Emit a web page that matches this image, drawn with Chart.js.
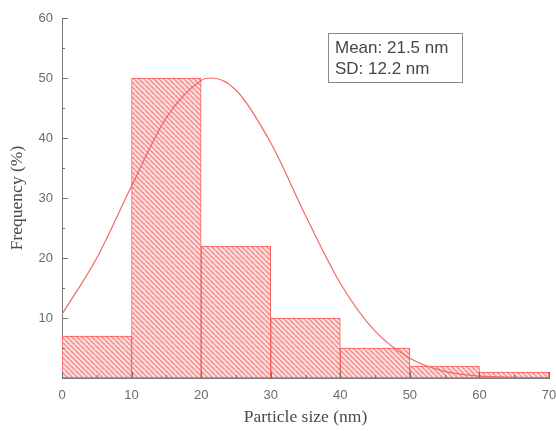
<!DOCTYPE html>
<html>
<head>
<meta charset="utf-8">
<script src="https://cdn.jsdelivr.net/npm/chart.js@4"></script>
<style>
  html, body { margin: 0; padding: 0; background: #fff; }
  #wrap { position: relative; width: 556px; height: 431px; }
  #stats {
    position: absolute; left: 328px; top: 33px; width: 135px; height: 50px;
    border: 1px solid #8a8a8a; box-sizing: border-box;
    font-family: "Liberation Sans", Arial, sans-serif; font-size: 17px;
    line-height: 21px; color: #474747; padding: 3px 0 0 6px; margin: 0;
  }
</style>
</head>
<body>
<div id="wrap">
  <canvas id="c" width="556" height="431"></canvas>
  <div id="stats">Mean: 21.5 nm<br>SD: 12.2 nm</div>
</div>
<script>
// Histogram bins (nm) and frequency per bin (%)
const binEdges = [0, 10, 20, 30, 40, 50, 60, 70];
const frequency = [7, 50, 22, 10, 5, 2, 1];

// Fitted distribution curve, sampled along particle size
const fitSize = [0, 5, 10, 15, 20, 21.5, 25, 30, 35, 40, 45, 50, 55, 60, 65, 70];
const fitFreq = [10.6, 20, 32, 43.4, 49.6, 50, 48, 39.2, 27.1, 15.8, 7.8, 3.3, 1.1, 0.3, 0.1, 0];

// Axis ranges and tick steps
const xRange = [0, 70];
const yRange = [0, 60];
const majorStep = 10;
const minorStep = 5;

function hatchPattern() {
  const s = 5;
  const c = document.createElement('canvas');
  c.width = s; c.height = s;
  const g = c.getContext('2d');
  g.fillStyle = '#fde2e2';
  g.fillRect(0, 0, s, s);
  g.strokeStyle = '#f39393';
  g.lineWidth = 1.6;
  for (const o of [-s, 0, s]) {
    g.beginPath();
    g.moveTo(o, 0);
    g.lineTo(o + s, s);
    g.stroke();
  }
  return g.createPattern(c, 'repeat');
}

const barData = frequency.map((f, i) => ({ x: (binEdges[i] + binEdges[i + 1]) / 2, y: f }));
const fitData = fitSize.map((x, i) => ({ x, y: fitFreq[i] }));

// Tick marks drawn on the inner side of both axes
const innerTicks = {
  id: 'innerTicks',
  afterDatasetsDraw(chart) {
    const { ctx, scales: { x, y } } = chart;
    ctx.save();
    ctx.strokeStyle = '#6f6f6f';
    ctx.lineWidth = 1;
    for (let v = yRange[0]; v <= yRange[1]; v += minorStep) {
      const len = v % majorStep === 0 ? 6 : 3;
      const py = Math.round(y.getPixelForValue(v)) + 0.5;
      ctx.beginPath();
      ctx.moveTo(x.left, py);
      ctx.lineTo(x.left + len, py);
      ctx.stroke();
    }
    for (let v = xRange[0]; v <= xRange[1]; v += minorStep) {
      const len = v % majorStep === 0 ? 6 : 3;
      const px = Math.round(x.getPixelForValue(v)) + 0.5;
      ctx.beginPath();
      ctx.moveTo(px, y.bottom);
      ctx.lineTo(px, y.bottom - len);
      ctx.stroke();
    }
    ctx.restore();
  }
};

const whiteBg = {
  id: 'whiteBg',
  beforeDraw(chart) {
    const ctx = chart.ctx;
    ctx.save();
    ctx.fillStyle = '#fff';
    ctx.fillRect(0, 0, chart.width, chart.height);
    ctx.restore();
  }
};

new Chart(document.getElementById('c'), {
  type: 'bar',
  data: {
    datasets: [
      {
        type: 'line',
        data: fitData,
        borderColor: '#f06868',
        borderWidth: 1.2,
        pointRadius: 0,
        cubicInterpolationMode: 'monotone',
        fill: false,
        order: 0
      },
      {
        type: 'bar',
        data: barData,
        backgroundColor: hatchPattern(),
        borderColor: '#ff5a5a',
        borderWidth: 1,
        borderSkipped: false,
        barPercentage: 1,
        categoryPercentage: 1,
        order: 1
      }
    ]
  },
  options: {
    responsive: false,
    animation: false,
    events: [],
    layout: { padding: { top: 18, right: 7, left: 0, bottom: 0 } },
    plugins: { legend: { display: false }, tooltip: { enabled: false } },
    scales: {
      x: {
        type: 'linear',
        min: xRange[0], max: xRange[1],
        offset: false,
        grid: { display: false },
        border: { display: true, color: '#7a7a7a', width: 1 },
        ticks: {
          stepSize: majorStep,
          padding: 2,
          color: '#6a6a6a',
          font: { family: 'Liberation Sans, Arial, sans-serif', size: 13 },
          maxRotation: 0,
          autoSkip: false
        },
        title: {
          display: true,
          text: 'Particle size (nm)',
          color: '#4a4a4a',
          font: { family: 'Liberation Serif, Times New Roman, serif', size: 17.5 },
          padding: { top: 4, bottom: 3 }
        },
        afterFit(scale) {
          scale.height = 53;
          scale.paddingLeft = 0;
          scale.paddingRight = 0;
        }
      },
      y: {
        min: yRange[0], max: yRange[1],
        grid: { display: false },
        border: { display: true, color: '#7a7a7a', width: 1 },
        ticks: {
          stepSize: majorStep,
          padding: 1,
          color: '#6a6a6a',
          font: { family: 'Liberation Sans, Arial, sans-serif', size: 13 },
          callback: v => (v === 0 ? '' : v)
        },
        title: {
          display: true,
          text: 'Frequency (%)',
          color: '#4a4a4a',
          font: { family: 'Liberation Serif, Times New Roman, serif', size: 17.5 },
          padding: { top: 7, bottom: 0 }
        },
        afterFit(scale) {
          scale.width = 62;
          scale.paddingTop = 0;
          scale.paddingBottom = 0;
        }
      }
    }
  },
  plugins: [whiteBg, innerTicks]
});
</script>
</body>
</html>
